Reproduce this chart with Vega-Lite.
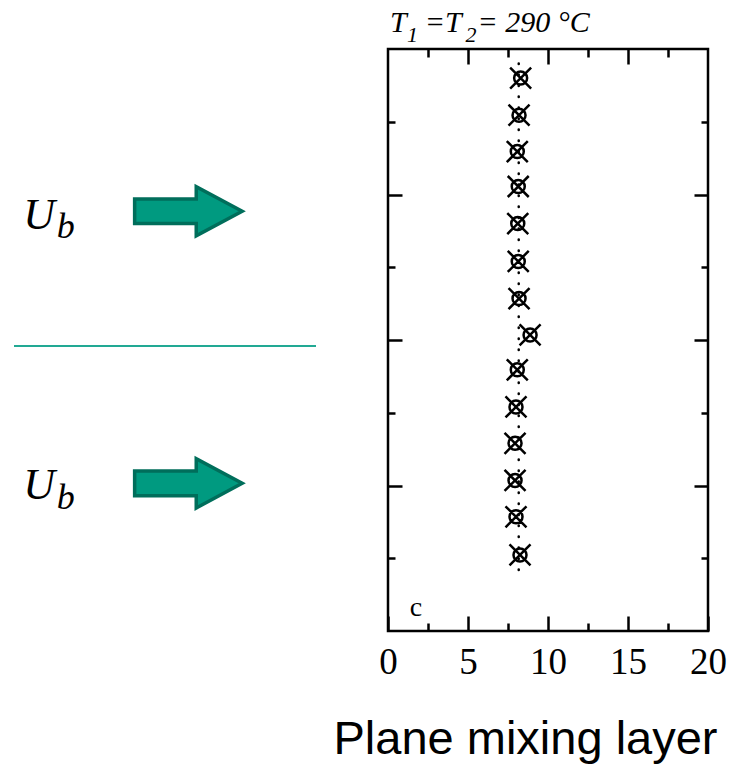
{
  "$schema": "https://vega.github.io/schema/vega-lite/v6.json",
  "width": 320,
  "height": 582,
  "autosize": {"type": "none"},
  "padding": {"left": 388, "top": 49, "right": 31, "bottom": 134},
  "background": "white",
  "config": {"view": {"stroke": "black", "strokeWidth": 2.5}},
  "datasets": {
    "points": [
      {"x": 8.29, "y": 7.60},
      {"x": 8.19, "y": 7.09},
      {"x": 8.08, "y": 6.59},
      {"x": 8.14, "y": 6.11},
      {"x": 8.11, "y": 5.60},
      {"x": 8.14, "y": 5.08},
      {"x": 8.19, "y": 4.57},
      {"x": 8.88, "y": 4.07},
      {"x": 8.08, "y": 3.59},
      {"x": 8.00, "y": 3.08},
      {"x": 7.94, "y": 2.58},
      {"x": 7.94, "y": 2.07},
      {"x": 8.00, "y": 1.57},
      {"x": 8.25, "y": 1.045}
    ],
    "dotted": [{"x": 8.17, "y": 0.84, "y2": 7.82}],
    "divider": [{"x": -23.375, "x2": -4.5, "y": 3.918}],
    "arrows": [{"x": -12.44, "y": 5.77}, {"x": -12.44, "y": 2.03}],
    "ub_main": [{"label": "U", "x": -22.8, "y": 5.53}, {"label": "U", "x": -22.8, "y": 1.81}],
    "ub_sub": [{"label": "b", "x": -20.7, "y": 5.40}, {"label": "b", "x": -20.7, "y": 1.68}],
    "title_main": [
      {"label": "T", "x": 0.125, "y": 8.237},
      {"label": "=T", "x": 2.3, "y": 8.237},
      {"label": "= 290 °C", "x": 5.6, "y": 8.237}
    ],
    "title_sub": [
      {"label": "1", "x": 1.19, "y": 8.10},
      {"label": "2", "x": 4.85, "y": 8.10}
    ],
    "panel": [{"label": "c", "x": 1.75, "y": 0.32}]
  },
  "layer": [
    {
      "data": {"name": "points"},
      "mark": {
        "type": "point",
        "shape": "M-1,-1L1,1M1,-1L-1,1M0.62,0A0.62,0.62 0 1,1 -0.62,0A0.62,0.62 0 1,1 0.62,0",
        "size": 441,
        "filled": false,
        "stroke": "black",
        "strokeWidth": 2.5,
        "opacity": 1
      },
      "encoding": {
        "x": {
          "field": "x", "type": "quantitative",
          "scale": {"domain": [0, 20], "nice": false, "zero": false},
          "axis": {
            "orient": "bottom",
            "values": [0, 2.5, 5, 7.5, 10, 12.5, 15, 17.5, 20],
            "labelExpr": "datum.value % 5 === 0 ? format(datum.value, 'd') : ''",
            "tickSize": {"condition": {"test": "datum.value % 5 === 0", "value": -15}, "value": -8},
            "tickWidth": 2.5, "tickColor": "black",
            "domain": false, "grid": false,
            "labelFont": "Liberation Serif", "labelFontSize": 37, "labelColor": "black",
            "labelPadding": 28, "labelFlush": false, "labelOverlap": false,
            "title": "Plane mixing layer",
            "titleFont": "Liberation Sans", "titleFontSize": 47, "titleFontWeight": "normal",
            "titleColor": "black", "titleX": 137, "titleY": 122,
            "titleBaseline": "alphabetic", "titleAlign": "center"
          }
        },
        "y": {
          "field": "y", "type": "quantitative",
          "scale": {"domain": [0, 8], "nice": false, "zero": false},
          "axis": {
            "orient": "left",
            "values": [1, 2, 3, 4, 5, 6, 7],
            "tickSize": {"condition": {"test": "datum.value % 2 === 0", "value": -14}, "value": -7},
            "tickWidth": 2.5, "tickColor": "black",
            "labels": false, "domain": false, "grid": false, "title": null
          }
        }
      }
    },
    {
      "data": {"name": "dotted"},
      "mark": {"type": "rule", "stroke": "black", "strokeWidth": 2.5, "strokeDash": [0.5, 10.5], "strokeCap": "round"},
      "encoding": {
        "x": {
          "field": "x", "type": "quantitative",
          "scale": {"domain": [0, 20], "nice": false, "zero": false},
          "axis": {
            "orient": "top",
            "values": [2.5, 5, 7.5, 10, 12.5, 15, 17.5],
            "tickSize": {"condition": {"test": "datum.value % 5 === 0", "value": -15}, "value": -8},
            "tickWidth": 2.5, "tickColor": "black",
            "labels": false, "domain": false, "grid": false, "title": null
          }
        },
        "y": {
          "field": "y", "type": "quantitative",
          "scale": {"domain": [0, 8], "nice": false, "zero": false},
          "axis": {
            "orient": "right",
            "values": [1, 2, 3, 4, 5, 6, 7],
            "tickSize": {"condition": {"test": "datum.value % 2 === 0", "value": -14}, "value": -7},
            "tickWidth": 2.5, "tickColor": "black",
            "labels": false, "domain": false, "grid": false, "title": null
          }
        },
        "y2": {"field": "y2"}
      }
    },
    {
      "data": {"name": "divider"},
      "mark": {"type": "rule", "stroke": "#22a994", "strokeWidth": 2},
      "encoding": {
        "x": {"field": "x", "type": "quantitative", "scale": {"domain": [0, 20], "nice": false, "zero": false}, "axis": null},
        "x2": {"field": "x2"},
        "y": {"field": "y", "type": "quantitative", "scale": {"domain": [0, 8], "nice": false, "zero": false}, "axis": null}
      }
    },
    {
      "data": {"name": "arrows"},
      "mark": {
        "type": "point",
        "shape": "M-0.97,-0.22L0.13,-0.22L0.13,-0.44L0.95,0L0.13,0.44L0.13,0.22L-0.97,0.22Z",
        "size": 12544,
        "filled": true,
        "fill": "#009a80",
        "stroke": "#006e5b",
        "strokeWidth": 3.5,
        "strokeJoin": "miter",
        "opacity": 1,
        "fillOpacity": 1
      },
      "encoding": {
        "x": {"field": "x", "type": "quantitative", "scale": {"domain": [0, 20], "nice": false, "zero": false}, "axis": null},
        "y": {"field": "y", "type": "quantitative", "scale": {"domain": [0, 8], "nice": false, "zero": false}, "axis": null}
      }
    },
    {
      "data": {"name": "ub_main"},
      "mark": {"type": "text", "font": "Liberation Serif", "fontStyle": "italic", "fontSize": 44, "align": "left", "baseline": "alphabetic", "color": "black"},
      "encoding": {
        "x": {"field": "x", "type": "quantitative", "scale": {"domain": [0, 20], "nice": false, "zero": false}, "axis": null},
        "y": {"field": "y", "type": "quantitative", "scale": {"domain": [0, 8], "nice": false, "zero": false}, "axis": null},
        "text": {"field": "label"}
      }
    },
    {
      "data": {"name": "ub_sub"},
      "mark": {"type": "text", "font": "Liberation Serif", "fontStyle": "italic", "fontSize": 36, "align": "left", "baseline": "alphabetic", "color": "black"},
      "encoding": {
        "x": {"field": "x", "type": "quantitative", "scale": {"domain": [0, 20], "nice": false, "zero": false}, "axis": null},
        "y": {"field": "y", "type": "quantitative", "scale": {"domain": [0, 8], "nice": false, "zero": false}, "axis": null},
        "text": {"field": "label"}
      }
    },
    {
      "data": {"name": "title_main"},
      "mark": {"type": "text", "font": "Liberation Serif", "fontStyle": "italic", "fontSize": 30, "align": "left", "baseline": "alphabetic", "color": "black"},
      "encoding": {
        "x": {"field": "x", "type": "quantitative", "scale": {"domain": [0, 20], "nice": false, "zero": false}, "axis": null},
        "y": {"field": "y", "type": "quantitative", "scale": {"domain": [0, 8], "nice": false, "zero": false}, "axis": null},
        "text": {"field": "label"}
      }
    },
    {
      "data": {"name": "title_sub"},
      "mark": {"type": "text", "font": "Liberation Serif", "fontStyle": "italic", "fontSize": 22, "align": "left", "baseline": "alphabetic", "color": "black"},
      "encoding": {
        "x": {"field": "x", "type": "quantitative", "scale": {"domain": [0, 20], "nice": false, "zero": false}, "axis": null},
        "y": {"field": "y", "type": "quantitative", "scale": {"domain": [0, 8], "nice": false, "zero": false}, "axis": null},
        "text": {"field": "label"}
      }
    },
    {
      "data": {"name": "panel"},
      "mark": {"type": "text", "font": "Liberation Serif", "fontSize": 28, "align": "center", "baseline": "middle", "color": "black"},
      "encoding": {
        "x": {"field": "x", "type": "quantitative", "scale": {"domain": [0, 20], "nice": false, "zero": false}, "axis": null},
        "y": {"field": "y", "type": "quantitative", "scale": {"domain": [0, 8], "nice": false, "zero": false}, "axis": null},
        "text": {"field": "label"}
      }
    }
  ],
  "resolve": {"axis": {"x": "independent", "y": "independent"}}
}
